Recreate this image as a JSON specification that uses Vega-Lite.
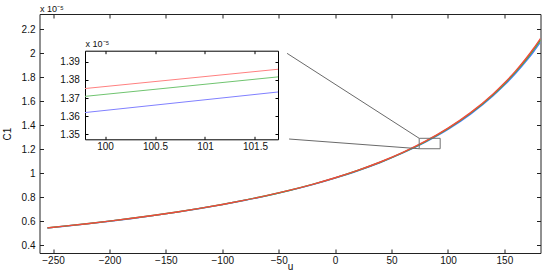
{
  "$schema": "https://vega.github.io/schema/vega-lite/v6.json",
  "width": 501,
  "height": 239,
  "autosize": {"type": "none"},
  "padding": {"left": 39.5, "top": 14, "right": 4.5, "bottom": 20},
  "config": {
    "view": {"stroke": null},
    "axis": {
      "grid": false,
      "domainColor": "#222222",
      "tickColor": "#222222",
      "labelColor": "#111111",
      "titleColor": "#111111",
      "labelFont": "Liberation Sans",
      "titleFont": "Liberation Sans",
      "labelFontSize": 10,
      "titleFontSize": 10,
      "titleFontWeight": "normal",
      "tickSize": -4,
      "labelOverlap": false,
      "labelFlush": false
    }
  },
  "datasets": {
    "main": [
      {"u": -255, "C1": 0.5454, "series": "red"},
      {"u": -240, "C1": 0.5597, "series": "red"},
      {"u": -220, "C1": 0.5799, "series": "red"},
      {"u": -200, "C1": 0.6017, "series": "red"},
      {"u": -180, "C1": 0.6251, "series": "red"},
      {"u": -160, "C1": 0.6505, "series": "red"},
      {"u": -140, "C1": 0.6780, "series": "red"},
      {"u": -120, "C1": 0.7079, "series": "red"},
      {"u": -100, "C1": 0.7406, "series": "red"},
      {"u": -80, "C1": 0.7765, "series": "red"},
      {"u": -60, "C1": 0.8160, "series": "red"},
      {"u": -40, "C1": 0.8598, "series": "red"},
      {"u": -20, "C1": 0.9085, "series": "red"},
      {"u": 0, "C1": 0.9631, "series": "red"},
      {"u": 20, "C1": 1.0246, "series": "red"},
      {"u": 40, "C1": 1.0945, "series": "red"},
      {"u": 60, "C1": 1.1747, "series": "red"},
      {"u": 80, "C1": 1.2676, "series": "red"},
      {"u": 100, "C1": 1.3764, "series": "red"},
      {"u": 120, "C1": 1.5056, "series": "red"},
      {"u": 140, "C1": 1.6617, "series": "red"},
      {"u": 150, "C1": 1.7525, "series": "red"},
      {"u": 160, "C1": 1.8538, "series": "red"},
      {"u": 170, "C1": 1.9675, "series": "red"},
      {"u": 176, "C1": 2.0427, "series": "red"},
      {"u": 182, "C1": 2.1238, "series": "red"},
      {"u": -255, "C1": 0.5454, "series": "green"},
      {"u": -240, "C1": 0.5597, "series": "green"},
      {"u": -220, "C1": 0.5799, "series": "green"},
      {"u": -200, "C1": 0.6017, "series": "green"},
      {"u": -180, "C1": 0.6251, "series": "green"},
      {"u": -160, "C1": 0.6505, "series": "green"},
      {"u": -140, "C1": 0.6780, "series": "green"},
      {"u": -120, "C1": 0.7079, "series": "green"},
      {"u": -100, "C1": 0.7406, "series": "green"},
      {"u": -80, "C1": 0.7765, "series": "green"},
      {"u": -60, "C1": 0.8155, "series": "green"},
      {"u": -40, "C1": 0.8593, "series": "green"},
      {"u": -20, "C1": 0.9078, "series": "green"},
      {"u": 0, "C1": 0.9621, "series": "green"},
      {"u": 20, "C1": 1.0236, "series": "green"},
      {"u": 40, "C1": 1.0925, "series": "green"},
      {"u": 60, "C1": 1.1727, "series": "green"},
      {"u": 80, "C1": 1.2646, "series": "green"},
      {"u": 100, "C1": 1.3724, "series": "green"},
      {"u": 120, "C1": 1.5006, "series": "green"},
      {"u": 140, "C1": 1.6557, "series": "green"},
      {"u": 150, "C1": 1.7455, "series": "green"},
      {"u": 160, "C1": 1.8458, "series": "green"},
      {"u": 170, "C1": 1.9575, "series": "green"},
      {"u": 176, "C1": 2.0317, "series": "green"},
      {"u": 182, "C1": 2.1118, "series": "green"},
      {"u": -255, "C1": 0.5444, "series": "blue"},
      {"u": -240, "C1": 0.5587, "series": "blue"},
      {"u": -220, "C1": 0.5789, "series": "blue"},
      {"u": -200, "C1": 0.6007, "series": "blue"},
      {"u": -180, "C1": 0.6241, "series": "blue"},
      {"u": -160, "C1": 0.6495, "series": "blue"},
      {"u": -140, "C1": 0.6770, "series": "blue"},
      {"u": -120, "C1": 0.7069, "series": "blue"},
      {"u": -100, "C1": 0.7396, "series": "blue"},
      {"u": -80, "C1": 0.7752, "series": "blue"},
      {"u": -60, "C1": 0.8145, "series": "blue"},
      {"u": -40, "C1": 0.8581, "series": "blue"},
      {"u": -20, "C1": 0.9065, "series": "blue"},
      {"u": 0, "C1": 0.9611, "series": "blue"},
      {"u": 20, "C1": 1.0216, "series": "blue"},
      {"u": 40, "C1": 1.0905, "series": "blue"},
      {"u": 60, "C1": 1.1697, "series": "blue"},
      {"u": 80, "C1": 1.2606, "series": "blue"},
      {"u": 100, "C1": 1.3664, "series": "blue"},
      {"u": 120, "C1": 1.4936, "series": "blue"},
      {"u": 140, "C1": 1.6467, "series": "blue"},
      {"u": 150, "C1": 1.7355, "series": "blue"},
      {"u": 160, "C1": 1.8338, "series": "blue"},
      {"u": 170, "C1": 1.9435, "series": "blue"},
      {"u": 176, "C1": 2.0157, "series": "blue"},
      {"u": 182, "C1": 2.0938, "series": "blue"}
    ],
    "inset": [
      {"u": 99.8, "C1": 1.3752, "series": "red"},
      {"u": 101.73, "C1": 1.3858, "series": "red"},
      {"u": 99.8, "C1": 1.3709, "series": "green"},
      {"u": 101.73, "C1": 1.3816, "series": "green"},
      {"u": 99.8, "C1": 1.3620, "series": "blue"},
      {"u": 101.73, "C1": 1.3733, "series": "blue"}
    ],
    "zoombox": [
      {"u1": 74.5, "u2": 93.1, "c1": 1.205, "c2": 1.292}
    ],
    "connectors": [
      {"u": -42.6, "C1": 2.0, "seg": "upper"},
      {"u": 74.5, "C1": 1.292, "seg": "upper"},
      {"u": -40.8, "C1": 1.286, "seg": "lower"},
      {"u": 74.5, "C1": 1.205, "seg": "lower"}
    ]
  },
  "layer": [
    {
      "layer": [
        {
          "data": {"name": "main"},
          "transform": [{"filter": "datum.series === 'blue'"}],
          "mark": {"type": "line", "color": "#4a78ff", "strokeWidth": 1.4, "interpolate": "monotone", "clip": true},
          "encoding": {
            "x": {"field": "u", "type": "quantitative",
              "scale": {"domain": [-262, 182], "nice": false, "zero": false},
              "axis": {"orient": "bottom", "values": [-250, -200, -150, -100, -50, 0, 50, 100, 150],
                "labelPadding": 6, "title": "u", "titleY": 16.5, "titleBaseline": "alphabetic"}},
            "y": {"field": "C1", "type": "quantitative",
              "scale": {"domain": [0.336, 2.328], "nice": false, "zero": false},
              "axis": {"orient": "left", "values": [0.4, 0.6, 0.8, 1, 1.2, 1.4, 1.6, 1.8, 2, 2.2], "format": "~f",
                "labelPadding": 8.5, "title": "C1", "titleX": -29.5, "titleBaseline": "alphabetic"}}
          }
        },
        {
          "data": {"name": "main"},
          "transform": [{"filter": "datum.series === 'green'"}],
          "mark": {"type": "line", "color": "#3cb43c", "strokeWidth": 1.4, "interpolate": "monotone", "clip": true},
          "encoding": {
            "x": {"field": "u", "type": "quantitative", "axis": null},
            "y": {"field": "C1", "type": "quantitative", "axis": null}
          }
        },
        {
          "data": {"name": "main"},
          "transform": [{"filter": "datum.series === 'red'"}],
          "mark": {"type": "line", "color": "#f04a3c", "strokeWidth": 1.4, "interpolate": "monotone", "clip": true},
          "encoding": {
            "x": {"field": "u", "type": "quantitative", "axis": null},
            "y": {"field": "C1", "type": "quantitative", "axis": null}
          }
        },
        {
          "data": {"name": "zoombox"},
          "mark": {"type": "rect", "fill": null, "fillOpacity": 0, "stroke": "#707070", "strokeWidth": 1},
          "encoding": {
            "x": {"field": "u1", "type": "quantitative",
              "axis": {"orient": "top", "values": [-250, -200, -150, -100, -50, 0, 50, 100, 150], "labels": false,
                "title": "x 10⁻⁵", "titleAnchor": "start", "titleAlign": "left", "titleAngle": 0,
                "titleY": -3, "titleBaseline": "alphabetic", "titleFontSize": 9}},
            "x2": {"field": "u2"},
            "y": {"field": "c1", "type": "quantitative",
              "axis": {"orient": "right", "values": [0.4, 0.6, 0.8, 1, 1.2, 1.4, 1.6, 1.8, 2, 2.2], "labels": false, "title": null}},
            "y2": {"field": "c2"}
          }
        },
        {
          "data": {"name": "connectors"},
          "mark": {"type": "line", "color": "#6a6a6a", "strokeWidth": 1},
          "encoding": {
            "x": {"field": "u", "type": "quantitative", "axis": null},
            "y": {"field": "C1", "type": "quantitative", "axis": null},
            "detail": {"field": "seg"}
          }
        }
      ],
      "resolve": {"axis": {"x": "independent", "y": "independent"}}
    },
    {
      "layer": [
        {
          "data": {"name": "inset"},
          "transform": [{"filter": "datum.series === 'blue'"}],
          "mark": {"type": "line", "color": "#8080ff", "strokeWidth": 1},
          "encoding": {
            "x": {"field": "u", "type": "quantitative",
              "scale": {"domain": [99.8, 101.73], "range": [45.5, 238.5], "nice": false, "zero": false},
              "axis": {"orient": "bottom", "offset": -113.7, "values": [100, 100.5, 101, 101.5], "format": "~f",
                "tickSize": -3, "labelPadding": 5, "title": null, "domainColor": "#000000", "tickColor": "#000000"}},
            "y": {"field": "C1", "type": "quantitative",
              "scale": {"domain": [1.3473, 1.396], "range": [125.3, 36.7], "nice": false, "zero": false},
              "axis": {"orient": "left", "offset": -45.5, "values": [1.35, 1.36, 1.37, 1.38, 1.39], "format": "~f",
                "tickSize": -3, "labelPadding": 8.7, "title": null, "domainColor": "#000000", "tickColor": "#000000"}}
          }
        },
        {
          "data": {"name": "inset"},
          "transform": [{"filter": "datum.series === 'green'"}],
          "mark": {"type": "line", "color": "#70c470", "strokeWidth": 1},
          "encoding": {
            "x": {"field": "u", "type": "quantitative",
              "axis": {"orient": "top", "offset": -36.7, "values": [100, 100.5, 101, 101.5], "labels": false,
                "tickSize": -3, "domainColor": "#000000", "tickColor": "#000000",
                "title": "x 10⁻⁵", "titleAnchor": "start", "titleAlign": "left", "titleAngle": 0,
                "titleY": -4.5, "titleBaseline": "alphabetic", "titleFontSize": 9}},
            "y": {"field": "C1", "type": "quantitative",
              "axis": {"orient": "right", "offset": -262.5, "values": [1.35, 1.36, 1.37, 1.38, 1.39], "labels": false,
                "tickSize": -3, "title": null, "domainColor": "#000000", "tickColor": "#000000"}}
          }
        },
        {
          "data": {"name": "inset"},
          "transform": [{"filter": "datum.series === 'red'"}],
          "mark": {"type": "line", "color": "#ff8080", "strokeWidth": 1},
          "encoding": {
            "x": {"field": "u", "type": "quantitative", "axis": null},
            "y": {"field": "C1", "type": "quantitative", "axis": null}
          }
        }
      ],
      "resolve": {"axis": {"x": "independent", "y": "independent"}}
    }
  ],
  "resolve": {"scale": {"x": "independent", "y": "independent"}, "axis": {"x": "independent", "y": "independent"}}
}
